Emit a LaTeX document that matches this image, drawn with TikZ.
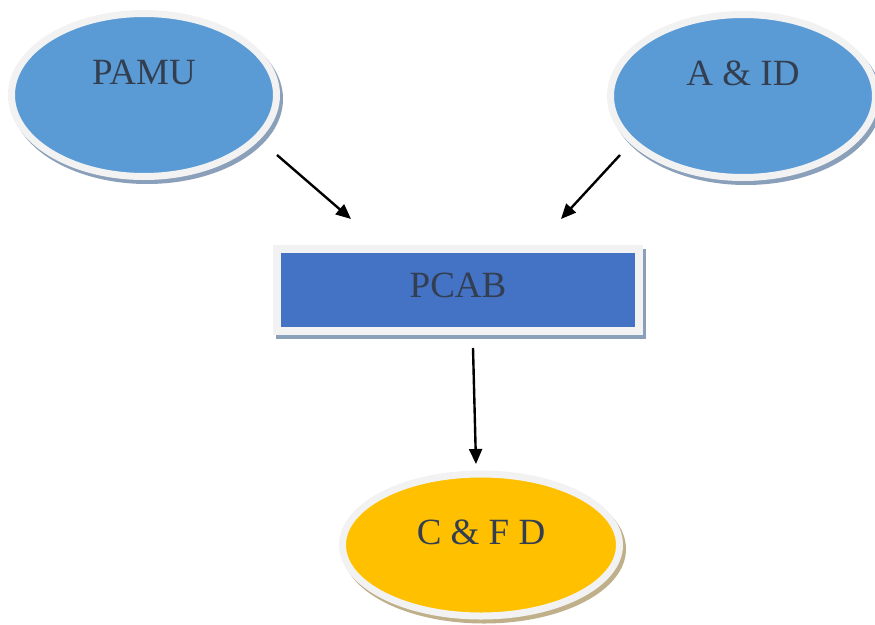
\documentclass[tikz,border=0pt]{standalone}
\usepackage{fontspec}
\setmainfont{Liberation Serif}
\usetikzlibrary{arrows.meta,shapes.geometric}
\definecolor{rim}{HTML}{F2F2F2}
\definecolor{ink}{HTML}{333F50}
\definecolor{skyblue}{HTML}{5B9BD5}
\definecolor{boxblue}{HTML}{4472C4}
\definecolor{gold}{HTML}{FFC000}
\definecolor{blueshade}{HTML}{8A9FB9}
\definecolor{goldshade}{HTML}{BFB08A}

\begin{document}
\begin{tikzpicture}[x=1pt,y=-1pt,
        font=\fontsize{37}{40}\selectfont,text=ink,
        shade/.style={preaction={draw=#1,fill=#1,transform canvas={shift={(3pt,-4pt)}}}},
        oval/.style={ellipse,draw=rim,line width=7pt,minimum width=265pt,minimum height=163pt},
        bar/.style={rectangle,draw=rim,line width=8pt,minimum width=362pt,minimum height=82pt},
        link/.style={line width=2.4pt,-{Triangle[length=15pt,width=13pt]}}]

    \useasboundingbox (0,0) rectangle (875,624);

    \node[oval,shade=blueshade,fill=skyblue] (pamu) at (144,95) {\raisebox{11pt}[0pt][0pt]{PAMU}};
    \node[oval,shade=blueshade,fill=skyblue] (aid) at (743,96) {\raisebox{11pt}[0pt][0pt]{A \& ID}};
    \node[bar,shade=blueshade,fill=boxblue] (pcab) at (458,290) {\raisebox{-7pt}[0pt][0pt]{PCAB}};
    \node[oval,shade=goldshade,fill=gold,minimum width=277pt,minimum height=142pt] (cfd) at (481,545) {\raisebox{1pt}[0pt][0pt]{C \& F D}};

    % arrow ends
    \coordinate (pamu-out) at (277,155);
    \coordinate (aid-out) at (620,155);
    \coordinate (pcab-in1) at (351,219);
    \coordinate (pcab-in2) at (561,219);
    \coordinate (pcab-out) at (473,348);
    \coordinate (cfd-in) at (476,464);

    \draw[link] (pamu-out) -- (pcab-in1);
    \draw[link] (aid-out) -- (pcab-in2);
    \draw[link] (pcab-out) -- (cfd-in);
\end{tikzpicture}
\end{document}
